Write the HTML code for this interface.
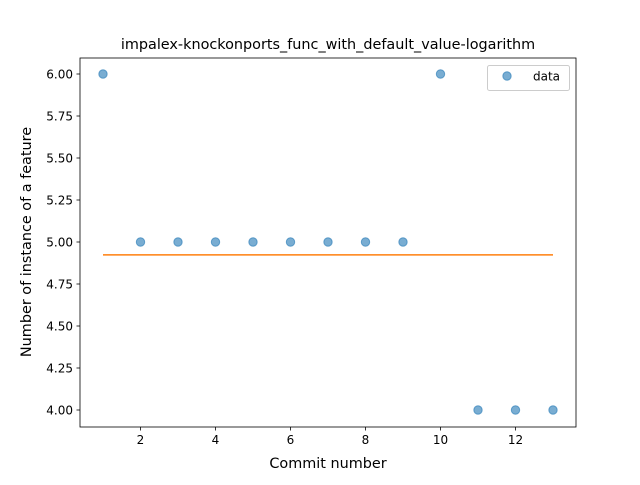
<!DOCTYPE html>
<html><head><meta charset="utf-8"><style>
body{margin:0;background:#fff;}
svg text{font-family:"DejaVu Sans","Liberation Sans",sans-serif;fill:#000;}
</style></head><body>
<svg id="chart" width="640" height="480" xmlns="http://www.w3.org/2000/svg">
<rect width="640" height="480" fill="#fff"/>
<g id="plot"></g>
<text x="328" y="49" text-anchor="middle" font-size="14.4">impalex-knockonports_func_with_default_value-logarithm</text>
<text x="328" y="468" text-anchor="middle" font-size="14.4">Commit number</text>
<text transform="translate(31,242) rotate(-90)" text-anchor="middle" font-size="14.4">Number of instance of a feature</text>
<g>
<rect x="487.5" y="65.5" width="82" height="25" rx="2" fill="#fff" stroke="#ccc"/>
<circle cx="507" cy="76" r="4.2" fill="#1f77b4" fill-opacity="0.6" stroke="#1f77b4" stroke-opacity="0.6"/>
<text x="533" y="80.5" font-size="12">data</text>
</g>
</svg>
<script>
const commits=[1,2,3,4,5,6,7,8,9,10,11,12,13];
const counts=[6,5,5,5,5,5,5,5,5,6,4,4,4];
const xTicks=[2,4,6,8,10,12];
const yTicks=[4.00,4.25,4.50,4.75,5.00,5.25,5.50,5.75,6.00];
const fitValue=counts.reduce((a,b)=>a+b,0)/counts.length;
const L=80,R=576,T=58,B=427;
const xs=v=>103+(v-1)*37.5;
const ys=v=>410-(v-4)*168;
const NS="http://www.w3.org/2000/svg";
const g=document.getElementById('plot');
function mk(t,a){const e=document.createElementNS(NS,t);for(const k in a)e.setAttribute(k,a[k]);g.appendChild(e);return e;}
xTicks.forEach(v=>{
 const l=mk('line',{x1:xs(v),x2:xs(v),y1:B,y2:B+3.5,stroke:'#000','stroke-width':0.8});
 
 
 const t=mk('text',{x:xs(v),y:B+17,'text-anchor':'middle','font-size':12});
 t.textContent=v;
 
 
});
yTicks.forEach(v=>{
 const l=mk('line',{x1:L-3.5,x2:L,y1:ys(v),y2:ys(v),stroke:'#000','stroke-width':0.8});
 
 
 const t=mk('text',{x:L-7,y:ys(v)+4.5,'text-anchor':'end','font-size':12});
 t.textContent=v.toFixed(2);
 
 
});
commits.forEach((c,i)=>{
 const p=mk('circle',{cx:xs(c),cy:ys(counts[i]),r:4.2,fill:'#1f77b4','fill-opacity':0.6,stroke:'#1f77b4','stroke-opacity':0.6});
 
 
});
const fl=mk('line',{x1:xs(commits[0]),x2:xs(commits[commits.length-1]),y1:ys(fitValue),y2:ys(fitValue),stroke:'#ff7f0e','stroke-width':1.5});


const fr=mk('rect',{x:L,y:T,width:R-L,height:B-T,fill:'none',stroke:'#000','stroke-width':0.8});


</script>
</body></html>
